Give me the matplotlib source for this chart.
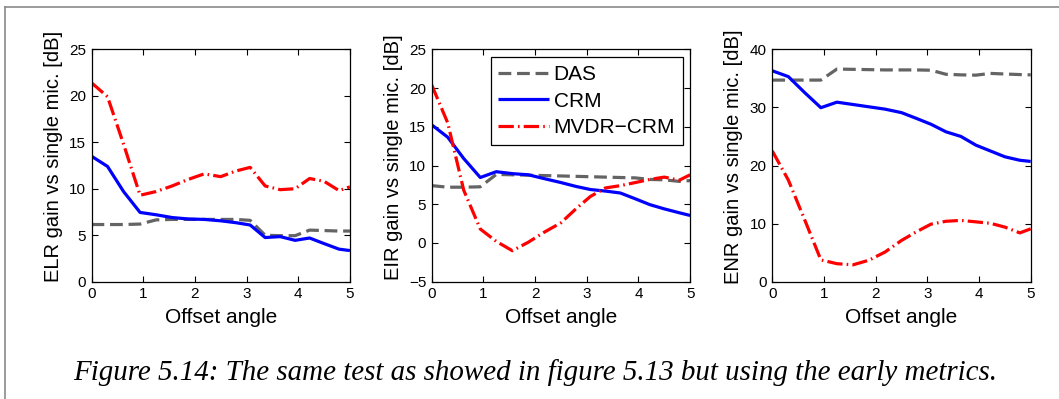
import matplotlib
matplotlib.use("Agg")
import matplotlib.pyplot as plt
from matplotlib.lines import Line2D

# Offset angles shared by all curves
offset = [0, 0.31, 0.62, 0.94, 1.25, 1.56, 1.87, 2.18, 2.5, 2.79,
          3.07, 3.36, 3.65, 3.94, 4.22, 4.5, 4.79, 5.0]

# ELR gain [dB]
elr_das = [6.15, 6.15, 6.15, 6.2, 6.65, 6.7, 6.7, 6.7, 6.7, 6.7,
           6.6, 5.0, 4.95, 4.95, 5.55, 5.5, 5.45, 5.45]
elr_crm = [13.5, 12.4, 9.7, 7.45, 7.2, 6.9, 6.75, 6.7, 6.55, 6.35,
           6.1, 4.75, 4.85, 4.45, 4.7, 4.1, 3.5, 3.35]
elr_mvdr = [21.4, 19.9, 14.8, 9.3, 9.7, 10.3, 11.0, 11.6, 11.3, 11.9,
            12.3, 10.3, 9.9, 10.0, 11.1, 10.8, 9.8, 10.2]

# EIR gain [dB]
eir_das = [7.4, 7.2, 7.2, 7.25, 8.85, 8.8, 8.75, 8.7, 8.65, 8.6,
           8.55, 8.5, 8.45, 8.4, 8.2, 8.15, 7.95, 8.05]
eir_crm = [15.25, 13.65, 10.9, 8.45, 9.2, 8.95, 8.8, 8.3, 7.8, 7.3,
           6.9, 6.7, 6.45, 5.7, 4.95, 4.4, 3.9, 3.55]
eir_mvdr = [20.4, 15.5, 6.8, 1.8, 0.2, -1.0, 0.1, 1.4, 2.6, 4.4,
            6.0, 7.1, 7.4, 7.8, 8.2, 8.5, 8.1, 8.8]

# ENR gain [dB]
enr_das = [34.7, 34.7, 34.7, 34.7, 36.6, 36.55, 36.5, 36.45, 36.45, 36.45,
           36.4, 35.7, 35.6, 35.55, 35.85, 35.75, 35.65, 35.6]
enr_crm = [36.3, 35.3, 32.6, 29.95, 30.9, 30.5, 30.1, 29.7, 29.1, 28.1,
           27.1, 25.8, 25.0, 23.5, 22.5, 21.5, 20.9, 20.7]
enr_mvdr = [22.5, 17.5, 10.8, 3.75, 3.1, 2.9, 3.7, 5.1, 7.1, 8.6,
            9.9, 10.4, 10.55, 10.3, 10.05, 9.4, 8.4, 9.1]

series_names = ["DAS", "CRM", "MVDR\u2212CRM"]
ylabels = ["ELR gain vs single mic. [dB]",
           "EIR gain vs single mic. [dB]",
           "ENR gain vs single mic. [dB]"]
ylims = [(0, 25), (-5, 25), (0, 40)]
yticks = [[0, 5, 10, 15, 20, 25], [-5, 0, 5, 10, 15, 20, 25], [0, 10, 20, 30, 40]]
xticks = [0, 1, 2, 3, 4, 5]
caption = ("Figure 5.14: The same test as showed in figure 5.13 "
           "but using the early metrics.")

data = [(elr_das, elr_crm, elr_mvdr),
        (eir_das, eir_crm, eir_mvdr),
        (enr_das, enr_crm, enr_mvdr)]

plt.rcParams["font.family"] = ["Liberation Sans", "DejaVu Sans"]
plt.rcParams["axes.unicode_minus"] = True

W, H = 1059, 399
fig = plt.figure(figsize=(W / 100, H / 100), dpi=100)
fig.patch.set_facecolor("white")

lefts_px = [91.5, 431.7, 772.3]
ax_w_px = 258.4
top_px, bot_px = 49.3, 281.7

lw = 2.3
styles = [
    dict(color="#646464", linestyle=(0, (4.0, 1.8)), linewidth=lw),
    dict(color="#0000ff", linestyle="-", linewidth=lw),
    dict(color="#ff0000", linestyle=(0, (4.8, 1.3, 0.5, 1.3)), linewidth=lw),
]

axes = []
for i in range(3):
    ax = fig.add_axes([lefts_px[i] / W, 1 - bot_px / H,
                       ax_w_px / W, (bot_px - top_px) / H])
    for ys, st, name in zip(data[i], styles, series_names):
        ax.plot(offset, ys, label=name, solid_capstyle="butt",
                dash_capstyle="butt", **st)
    ax.set_xlim(0, 5)
    ax.set_ylim(*ylims[i])
    ax.set_xticks(xticks)
    ax.set_yticks(yticks[i])
    ax.tick_params(direction="in", length=4, width=0.8, top=True, right=True,
                   labelsize=11, pad=4, colors="black")
    for sp in ax.spines.values():
        sp.set_linewidth(0.9)
    ax.set_xlabel("Offset angle", fontsize=15, labelpad=5)
    ax.set_ylabel(ylabels[i], fontsize=14.5)
    ax.yaxis.set_label_coords(-0.112, 0.537)
    axes.append(ax)

leg = axes[1].legend(loc="upper right", bbox_to_anchor=(0.972, 0.966),
                     borderaxespad=0, fontsize=15, handlelength=2.45,
                     handletextpad=0.2, labelspacing=0.37, borderpad=0.37,
                     fancybox=False, framealpha=1, edgecolor="black")
leg.get_frame().set_linewidth(0.9)

# Page frame
fig.add_artist(Line2D([5 / W, 1], [1 - 7.3 / H, 1 - 7.3 / H],
                      transform=fig.transFigure, color="#8a8a8a", lw=1.2))
fig.add_artist(Line2D([5 / W, 5 / W], [0, 1 - 7.3 / H],
                      transform=fig.transFigure, color="#8a8a8a", lw=1.2))

# Caption, sized to span its line
cap = fig.text(73 / W, 1 - 380 / H, caption, family="Liberation Serif",
               style="italic", fontsize=20, ha="left", va="baseline")
fig.canvas.draw()
ext = cap.get_window_extent(renderer=fig.canvas.get_renderer())
cap.set_fontsize(20 * (1000 - 73) / ext.width)

fig.savefig("out.png", dpi=100, facecolor="white")
